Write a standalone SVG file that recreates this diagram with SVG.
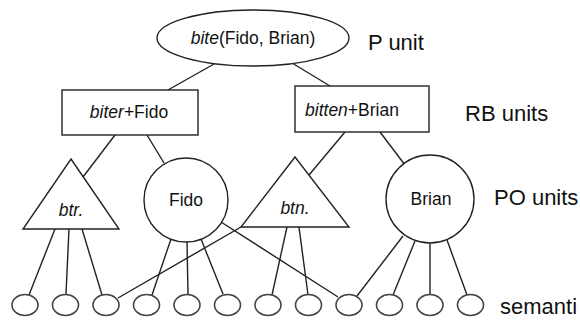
<svg xmlns="http://www.w3.org/2000/svg" width="580" height="322" viewBox="0 0 580 322">
<style>
.s{fill:#fff;stroke:#222;stroke-width:1.4}
.e{fill:none;stroke:#222;stroke-width:1.4}
.t{font-family:"Liberation Sans",Arial,sans-serif;font-size:17.5px;fill:#111;text-anchor:middle}
.l{font-family:"Liberation Sans",Arial,sans-serif;font-size:22px;fill:#111}
.sem{fill:#fff;stroke:#444;stroke-width:1.6}
</style>
<rect width="580" height="322" fill="#fff"/>
<g id="connectors" class="e">
<line x1="214" y1="64" x2="168" y2="90"/>
<line x1="292" y1="63" x2="330" y2="86"/>
<line x1="115" y1="135" x2="83" y2="177"/>
<line x1="147" y1="135" x2="164" y2="163"/>
<line x1="345" y1="132" x2="309" y2="175"/>
<line x1="380" y1="132" x2="405" y2="165"/>
<line x1="55" y1="229" x2="29" y2="295"/>
<line x1="69" y1="229" x2="66" y2="294"/>
<line x1="82" y1="229" x2="102" y2="295"/>
<line x1="171" y1="239" x2="152" y2="295"/>
<line x1="187" y1="242" x2="188" y2="294"/>
<line x1="201" y1="239" x2="223" y2="294"/>
<line x1="221" y1="222" x2="338" y2="297"/>
<line x1="241" y1="227" x2="118" y2="298"/>
<line x1="287" y1="227" x2="272" y2="295"/>
<line x1="299" y1="227" x2="308" y2="295"/>
<line x1="403" y1="236" x2="357" y2="296"/>
<line x1="415" y1="241" x2="393" y2="295"/>
<line x1="430" y1="243" x2="430" y2="294"/>
<line x1="447" y1="240" x2="467" y2="295"/>
</g>
<g id="p-unit">
<ellipse class="s" cx="253" cy="38" rx="96" ry="28"/>
<text class="t" x="253" y="44"><tspan font-style="italic">bite</tspan>(Fido, Brian)</text>
</g>
<g id="rb-biter-fido">
<rect class="s" x="62" y="90" width="136" height="45"/>
<text class="t" x="129" y="118"><tspan font-style="italic">biter</tspan>+Fido</text>
</g>
<g id="rb-bitten-brian">
<rect class="s" x="295" y="86" width="134" height="46"/>
<text class="t" x="352" y="116"><tspan font-style="italic">bitten</tspan>+Brian</text>
</g>
<g id="po-btr">
<polygon class="s" points="71,159 119,229 23,229"/>
<text class="t" x="71" y="216" font-style="italic">btr.</text>
</g>
<g id="po-fido">
<circle class="s" cx="186" cy="200" r="42"/>
<text class="t" x="186" y="206">Fido</text>
</g>
<g id="po-btn">
<polygon class="s" points="295,157 349,227 241,227"/>
<text class="t" x="295" y="214" font-style="italic">btn.</text>
</g>
<g id="po-brian">
<circle class="s" cx="430" cy="199" r="44"/>
<text class="t" x="431" y="205">Brian</text>
</g>
<g id="semantics">
<ellipse class="sem" cx="25" cy="305" rx="13" ry="10.5"/>
<ellipse class="sem" cx="65.5" cy="305" rx="13" ry="10.5"/>
<ellipse class="sem" cx="106" cy="305" rx="13" ry="10.5"/>
<ellipse class="sem" cx="146.5" cy="305" rx="13" ry="10.5"/>
<ellipse class="sem" cx="187" cy="305" rx="13" ry="10.5"/>
<ellipse class="sem" cx="227.5" cy="305" rx="13" ry="10.5"/>
<ellipse class="sem" cx="268" cy="305" rx="13" ry="10.5"/>
<ellipse class="sem" cx="308.5" cy="305" rx="13" ry="10.5"/>
<ellipse class="sem" cx="349" cy="305" rx="13" ry="10.5"/>
<ellipse class="sem" cx="389.5" cy="305" rx="13" ry="10.5"/>
<ellipse class="sem" cx="430" cy="305" rx="13" ry="10.5"/>
<ellipse class="sem" cx="470.5" cy="305" rx="13" ry="10.5"/>
</g>
<g id="labels">
<text class="l" x="368" y="50">P unit</text>
<text class="l" x="465" y="121">RB units</text>
<text class="l" x="494" y="205">PO units</text>
<text class="l" x="500" y="314">semanti</text>
</g>
</svg>
